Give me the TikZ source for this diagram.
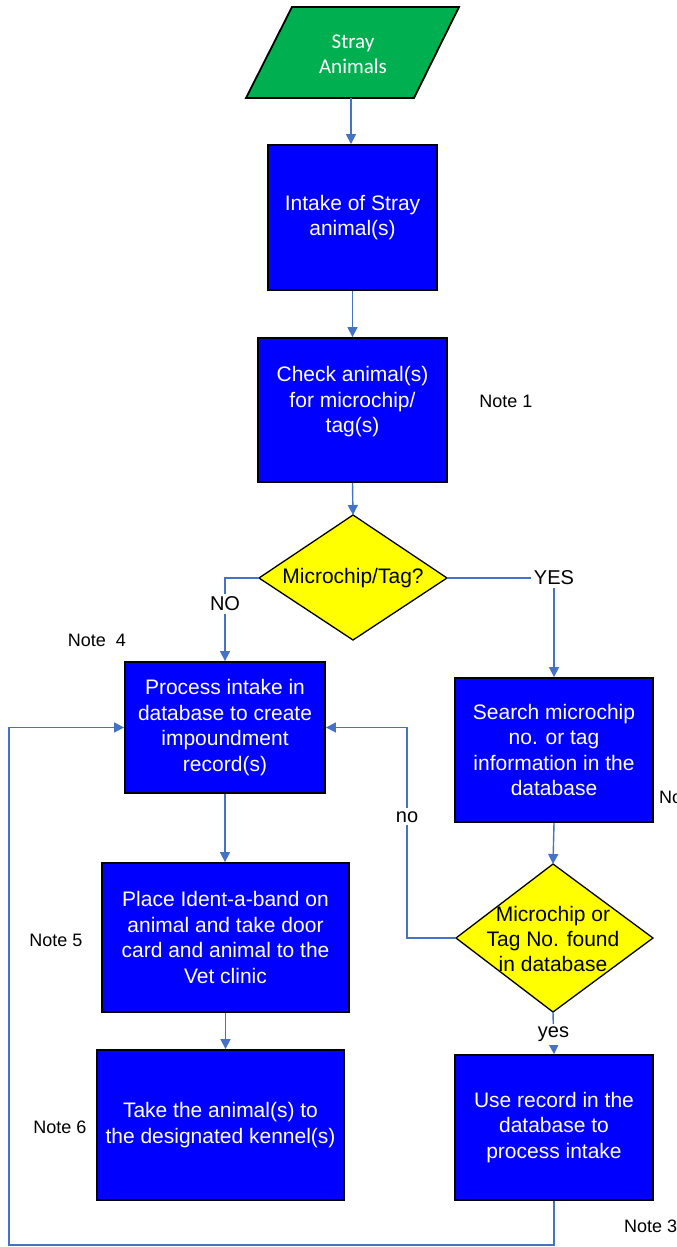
\documentclass[tikz,border=0pt]{standalone}
\usepackage{fontspec}
\setmainfont{Liberation Sans}
\newfontfamily\calibri{Carlito}
\usetikzlibrary{arrows.meta}
\definecolor{flowline}{RGB}{68,114,196}
\definecolor{termgreen}{RGB}{0,176,80}
\definecolor{procblue}{RGB}{0,0,255}
\definecolor{decyellow}{RGB}{255,255,0}
\begin{document}
\begin{tikzpicture}[x=1pt,y=-1pt,
  procbox/.style={draw=black, line width=1.8, fill=procblue, text=white, align=center, inner sep=0,
    font=\fontsize{21}{25.5}\selectfont},
  boxtext/.style={text=white, align=center, inner sep=0, font=\fontsize{21}{25.5}\selectfont},
  termshape/.style={draw=black, line width=1.8, fill=termgreen},
  decshape/.style={draw=black, line width=1.3, fill=decyellow},
  dectext/.style={align=center, inner sep=0, font=\fontsize{21}{25}\selectfont},
  notetext/.style={inner sep=0, font=\fontsize{18}{20}\selectfont},
  flow/.style={draw=flowline, line width=1.4, -{Triangle[length=10,width=10]}},
  branchlabel/.style={fill=white, inner sep=3, font=\fontsize{20}{22}\selectfont}]
\useasboundingbox (0,0) rectangle (677,1247);
\clip (0,0) rectangle (677,1247);

% start: stray animals (parallelogram)
\coordinate (pa) at (292,7);
\coordinate (pb) at (459,7);
\coordinate (pc) at (414,98);
\coordinate (pd) at (246,98);
\coordinate (strayout) at (351,98);
\draw[termshape] (pa) -- (pb) -- (pc) -- (pd) -- cycle;
\node[text=white, align=center, inner sep=0, font=\calibri\fontsize{21}{25}\selectfont]
  (stray) at (353,54) {Stray\\Animals};

% process boxes
\node[procbox, minimum width=169, minimum height=145] (intake) at (352.5,217.5) {Intake of Stray\\animal(s)};
\node[procbox, minimum width=189, minimum height=144] (check) at (352.5,410) {};
\node[boxtext] (checktxt) at (352.5,402) {Check animal(s)\\for microchip/\\tag(s)};
\node[procbox, minimum width=200, minimum height=131] (process) at (225,727.5)
  {Process intake in\\database to create\\impoundment\\record(s)};
\node[procbox, minimum width=198, minimum height=144] (search) at (554,750)
  {Search microchip\\no. or tag\\information in the\\database};
\node[procbox, minimum width=247, minimum height=149] (band) at (225.5,937.5)
  {Place Ident-a-band on\\animal and take door\\card and animal to the\\Vet clinic};
\node[procbox, minimum width=247, minimum height=150] (kennel) at (220.5,1125)
  {Take the animal(s) to\\the designated kennel(s)};
\node[procbox, minimum width=198, minimum height=145] (userec) at (554,1127.5)
  {Use record in the\\database to\\process intake};

% decision: microchip / tag present
\coordinate (d1n) at (353,515);
\coordinate (d1e) at (447,578);
\coordinate (d1s) at (353,640);
\coordinate (d1w) at (259,578);
\draw[decshape] (d1n) -- (d1e) -- (d1s) -- (d1w) -- cycle;
\node[dectext] (tagq) at (353,578) {Microchip/Tag?};

% decision: number found in database
\coordinate (d2n) at (553,864);
\coordinate (d2e) at (653,938);
\coordinate (d2s) at (553,1012);
\coordinate (d2w) at (456,938);
\draw[decshape] (d2n) -- (d2e) -- (d2s) -- (d2w) -- cycle;
\node[dectext] (found) at (553,939) {Microchip or\\Tag No. found\\in database};

% notes
\node[notetext] (note1) at (506,401) {Note 1};
\node[notetext, anchor=west] (note2) at (659,797) {Note 2};
\node[notetext, anchor=west] (note3) at (624,1226) {Note 3};
\node[notetext] (note4) at (97,640) {Note\ \ 4};
\node[notetext] (note5) at (56,940) {Note 5};
\node[notetext] (note6) at (60,1127) {Note 6};

% main flow
\draw[flow] (strayout) -- (intake.north -| strayout);
\draw[flow] (intake.south) -- (check.north);
\draw[flow] (check.south) -- (d1n);
\draw[flow] (d1w) -- (process.north |- d1w) -- node[branchlabel, pos=0.31] {NO} (process.north);
\draw[flow] (d1e) -- (search.north |- d1e) node[branchlabel] {YES} -- (search.north);
\draw[flow] (process.south) -- (band.north -| process.south);
\draw[flow] (band.south) -- (band.south |- kennel.north);
\draw[flow] (search.south) -- (d2n);

% not found: back to impoundment record
\coordinate (noturn) at (407,938);
\coordinate (notop) at (407,727.5);
\draw[flow] (d2w) -- (noturn) -- node[branchlabel, pos=0.576] {no} (notop) -- (process.east);

% found: use existing record
\draw[flow] (d2s) -- node[branchlabel, pos=0.53] {yes} (userec.north);

% loop from existing record back to processing
\coordinate (loopbr) at (554,1245);
\coordinate (loopbl) at (9,1245);
\coordinate (looptl) at (9,727.5);
\draw[flow] (userec.south) -- (loopbr) -- (loopbl) -- (looptl) -- (process.west);
\end{tikzpicture}
\end{document}
